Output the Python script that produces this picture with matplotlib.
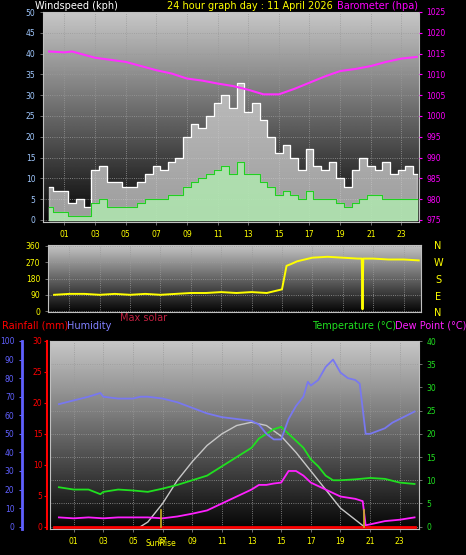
import numpy as np
import matplotlib
matplotlib.use("Agg")
import matplotlib.pyplot as plt

W, H = 466, 555

# wind (kph) every half hour
wind_t = np.arange(0, 24.5, 0.5)
gust = [8, 7, 7, 4, 5, 3, 12, 13, 9, 9, 8, 8, 9, 11, 13, 12, 14, 15, 20, 23, 22, 25, 28, 30, 27,
        33, 26, 28, 24, 20, 16, 18, 15, 12, 17, 13, 12, 14, 10, 8, 12, 15, 13, 12, 14, 11, 12, 13, 11]
avg = [3, 2, 2, 1, 1, 1, 4, 5, 3, 3, 3, 3, 4, 5, 5, 5, 6, 6, 8, 9, 10, 11, 12, 13, 11,
       14, 11, 11, 9, 8, 6, 7, 6, 5, 7, 5, 5, 5, 4, 3, 4, 5, 6, 6, 5, 5, 5, 5, 5]

baro_t = [0, 1, 1.5, 2, 3, 4, 5, 6, 7, 8, 9, 10, 11, 12, 13, 14, 15, 16, 17, 18, 19, 20, 21, 22, 23, 24]
baro = [1015.5, 1015.3, 1015.5, 1015, 1014, 1013.5, 1013, 1012, 1011, 1010.2, 1009, 1008.5, 1007.8,
        1007.2, 1006.3, 1005.2, 1005.2, 1006.5, 1008, 1009.5, 1010.8, 1011.3, 1012, 1013, 1013.8, 1014.2]

dir_t = [0, 1, 2, 3, 4, 5, 6, 7, 8, 9, 10, 11, 12, 13, 14, 14.5, 15, 15.3, 15.6, 16, 17, 18, 19,
         20, 20.25, 20.3, 20.35, 20.5, 21, 22, 23, 24]
wdir = [90, 95, 95, 90, 95, 90, 95, 90, 95, 100, 100, 105, 100, 105, 100, 110, 120, 250, 260, 275,
        295, 300, 295, 290, 290, 10, 290, 290, 290, 285, 285, 280]

hum_t = [0, 1, 2, 2.8, 3, 4, 5, 5.5, 6, 7, 8, 9, 10, 11, 12, 13, 13.5, 14, 14.5, 15, 15.5, 16, 16.5,
         16.8, 17, 17.5, 18, 18.5, 19, 19.5, 20, 20.3, 20.7, 21, 22, 22.5, 23, 24]
hum = [66, 68, 70, 72, 70, 69, 69, 70, 70, 69, 67, 64, 61, 59, 58, 57, 55, 50, 47, 47, 58, 65, 70,
       78, 76, 79, 86, 90, 83, 80, 79, 77, 50, 50, 53, 56, 58, 62]

temp_t = [0, 1, 2, 2.8, 3, 4, 5, 6, 7, 8, 9, 10, 11, 12, 13, 13.5, 14, 14.5, 15, 15.5, 16, 16.5, 17,
          17.5, 18, 18.5, 19, 20, 21, 22, 23, 24]
temp = [8.5, 8, 8, 7, 7.5, 8, 7.8, 7.5, 8.2, 9, 10, 11, 13, 15, 17, 19, 20, 21, 21.5, 20, 18.5, 17,
        14.5, 13, 11, 10, 10, 10.2, 10.5, 10.3, 9.5, 9.2]

dew_t = [0, 1, 2, 3, 4, 5, 6, 7, 8, 9, 10, 11, 12, 13, 13.5, 14, 14.5, 15, 15.5, 16, 16.5, 17, 18,
         19, 20, 20.5, 20.7, 21, 22, 23, 24]
dew = [2, 1.8, 2, 1.8, 2, 2, 2, 1.8, 2.2, 2.8, 3.5, 5, 6.5, 8, 9, 9, 9.3, 9.5, 12, 12, 11, 9.5, 8,
       6.5, 6, 5.5, 0.3, 0.5, 1.2, 1.5, 2]

solar_t = [5.5, 6, 7, 8, 9, 10, 11, 12, 13, 14, 15, 16, 17, 18, 19, 20, 20.6]
solar = [0, 1, 5, 10, 14, 17.5, 20, 21.8, 22.5, 21.8, 19.5, 16, 12, 8, 4, 1.5, 0]

sunrise, sunset = 6.9, 20.6
hour_labels = ["01", "03", "05", "07", "09", "11", "13", "15", "17", "19", "21", "23"]

fig = plt.figure(figsize=(W / 100, H / 100), dpi=100, facecolor="black")


def box(l, t, r, b):
    return [l / W, 1 - b / H, (r - l) / W, (b - t) / H]


def gradient(ax, y0, y1):
    g = np.linspace(0.78, 0.02, 256).reshape(-1, 1)
    ax.imshow(g, cmap="gray", vmin=0, vmax=1, aspect="auto", zorder=0,
              extent=[ax.get_xlim()[0], ax.get_xlim()[1], y0, y1], origin="upper")


def style(ax, ylab_color):
    ax.set_facecolor("black")
    for s in ax.spines.values():
        s.set_color("#c0c0c0")
    ax.tick_params(colors="#808080", labelsize=5.5, length=2, width=0.6)
    ax.tick_params(axis="y", labelcolor=ylab_color)
    ax.tick_params(axis="x", labelcolor="yellow")
    ax.grid(True, color="#9a9a9a", ls=":", lw=0.6)


odd = np.arange(1, 24, 2)

# top panel: wind and barometer
ax1 = fig.add_axes(box(43, 12, 419, 222))
ax1.set_xlim(-0.4, 24.15)
ax1.set_ylim(-0.5, 50)
gradient(ax1, -0.5, 50)
style(ax1, "#a0c8ff")
ax1.set_yticks(np.arange(0, 51, 5))
ax1.set_xticks(odd, hour_labels)
ax1.fill_between(wind_t, gust, step="mid", color="#d0d0d0", alpha=0.75, zorder=2)
ax1.step(wind_t, gust, where="mid", color="white", lw=0.8, zorder=3)
ax1.fill_between(wind_t, avg, step="mid", color="#b0e8b0", alpha=0.85, zorder=4)
ax1.step(wind_t, avg, where="mid", color="#20d020", lw=0.8, zorder=5)
ax1b = ax1.twinx()
ax1b.set_ylim(974.5, 1025)
ax1b.set_yticks(np.arange(975, 1026, 5))
ax1b.tick_params(colors="#ff00ff", labelsize=5.5, length=2)
ax1b.plot(baro_t, baro, color="#ff30ff", lw=1.5)
for s in ax1b.spines.values():
    s.set_visible(False)
fig.text(35 / W, 1 - 6 / H, "Windspeed (kph)", color="white", fontsize=7, va="center")
fig.text(250 / W, 1 - 6 / H, "24 hour graph day : 11 April 2026", color="yellow", fontsize=7,
         va="center", ha="center")
fig.text(418 / W, 1 - 6 / H, "Barometer (hpa)", color="#ff00ff", fontsize=7, va="center", ha="right")

# middle panel: wind direction
ax2 = fig.add_axes(box(48, 245, 421, 312))
ax2.set_xlim(-0.4, 24.15)
ax2.set_ylim(-5, 365)
gradient(ax2, -5, 365)
style(ax2, "yellow")
ax2.set_yticks([0, 90, 180, 270, 360])
ax2.set_xticks(odd, [])
ax2.tick_params(axis="x", length=0)
ax2.plot(dir_t, wdir, color="yellow", lw=1.4)
for lab, y in zip(["N", "W", "S", "E", "N"], [246, 263, 280, 297, 313]):
    fig.text(438 / W, 1 - y / H, lab, color="yellow", fontsize=7, ha="center", va="center")

# bottom panel
fig.text(2 / W, 1 - 326 / H, "Rainfall (mm)", color="red", fontsize=7, va="center")
fig.text(67 / W, 1 - 326 / H, "Humidity", color="#8080ff", fontsize=7, va="center")
fig.text(120 / W, 1 - 318 / H, "Max solar", color="#c02040", fontsize=7, va="center")
fig.text(312 / W, 1 - 326 / H, "Temperature (°C)", color="#20e020", fontsize=7, va="center")
fig.text(395 / W, 1 - 326 / H, "Dew Point (°C)", color="#ff20ff", fontsize=7, va="center")

ax3 = fig.add_axes(box(50, 341, 419, 529))
ax3.set_xlim(-0.6, 24.3)
ax3.set_ylim(-0.5, 40)
gradient(ax3, -0.5, 40)
style(ax3, "#20e020")
ax3.set_yticks(np.arange(0, 41, 5))
ax3.set_xticks(odd, hour_labels)
ax3.plot(solar_t, solar, color="#c8c8c8", lw=1)
ax3.plot(temp_t, temp, color="#20e020", lw=1.3)
ax3.plot(dew_t, dew, color="#ff20ff", lw=1.3)
ax3.axhline(0, color="red", lw=2, xmin=0.01, xmax=0.99)
for x in (sunrise, sunset):
    ax3.plot([x, x], [0, 3.5], color="#c8b020", lw=1.2)
ax3.text(sunrise, -2.6, "SunRise", color="yellow", fontsize=5.5, ha="center", va="top")

axh = ax3.twinx()
axh.set_ylim(-1.25, 100)
axh.plot(hum_t, hum, color="#7878f0", lw=1.3)
axh.yaxis.tick_left()
axh.spines["left"].set_position(("outward", 20))
axh.spines["left"].set_color("#6060ff")
axh.spines["left"].set_linewidth(2)
for s in ("top", "right", "bottom"):
    axh.spines[s].set_visible(False)
axh.set_yticks(np.arange(0, 101, 10))
axh.tick_params(colors="#6060ff", labelsize=5.5, length=2)

axr = ax3.twinx()
axr.set_ylim(-0.375, 30)
axr.yaxis.tick_left()
axr.spines["left"].set_position(("outward", 2))
axr.spines["left"].set_color("red")
axr.spines["left"].set_linewidth(1.5)
for s in ("top", "right", "bottom"):
    axr.spines[s].set_visible(False)
axr.set_yticks(np.arange(0, 31, 5))
axr.tick_params(colors="red", labelsize=5.5, length=2, pad=1.5)

# twinx moves the original ticks to the left, put temperature back on the right
ax3.yaxis.tick_right()
ax3.tick_params(axis="y", colors="#808080", labelcolor="#20e020", labelsize=5.5, length=2)

fig.savefig("out.png", dpi=100, facecolor="black")
